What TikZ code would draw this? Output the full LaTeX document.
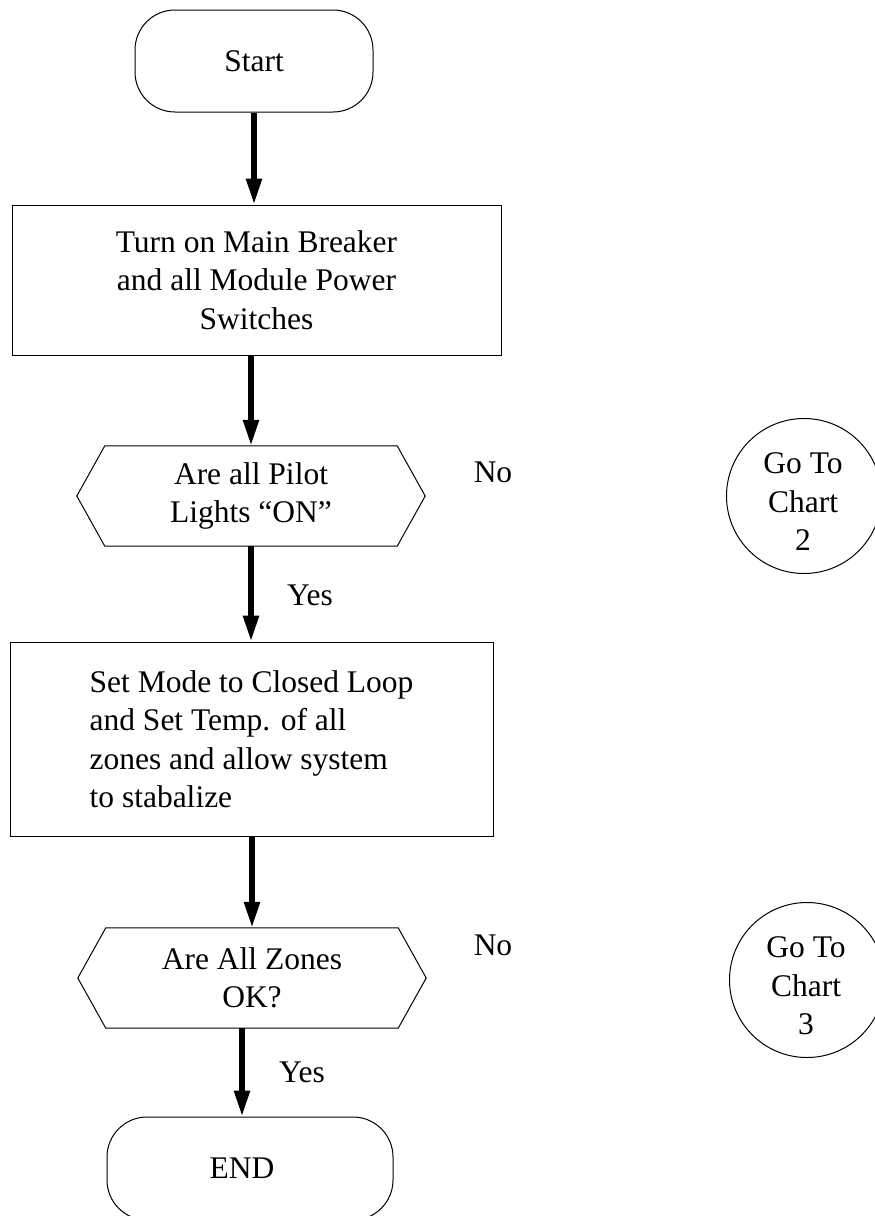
\documentclass[tikz,border=0pt]{standalone}
\usepackage{fontspec}
\setmainfont{Liberation Serif}
\usetikzlibrary{arrows.meta,calc}
\begin{document}
\begin{tikzpicture}[x=1pt,y=-1pt,
  font=\fontsize{31.5}{38.5}\selectfont,
  box/.style={draw, line width=1pt, inner sep=0pt},
  term/.style={box, rounded corners=40pt},
  dec/.style={inner sep=0pt, minimum width=292pt, minimum height=100pt, align=center},
  hexline/.style={line width=1pt, line join=miter},
  flow/.style={line width=5.5pt, -{Triangle[length=26pt,width=15pt]}},
  conn/.style={draw, circle, line width=1pt, minimum size=155pt, inner sep=0pt},
  lbl/.style={inner sep=0pt, align=center}]
\useasboundingbox (0,0) rectangle (875,1216);

% terminals and process boxes
\node[term, minimum width=238pt, minimum height=102pt] (start) at (254,61) {Start};
\node[box, minimum width=489pt, minimum height=150pt, align=center] (b1) at (256.5,280)
  {Turn on Main Breaker\\and all Module Power\\Switches};
\node[dec] (q1) at (251,496) {Are all Pilot\\Lights “ON”};
\draw[hexline] (q1.north west) -- (q1.north east) -- ($(q1.east)+(28,0)$) -- (q1.south east)
  -- (q1.south west) -- ($(q1.west)+(-28,0)$) -- cycle;
\node[box, minimum width=483pt, minimum height=194pt, align=left] (b2) at (251.5,739)
  {Set Mode to Closed Loop\\and Set Temp. of all\\zones and allow system\\to stabalize};
\node[dec] (q2) at (252,978) {Are All Zones\\OK?};
\draw[hexline] (q2.north west) -- (q2.north east) -- ($(q2.east)+(28,0)$) -- (q2.south east)
  -- (q2.south west) -- ($(q2.west)+(-28,0)$) -- cycle;
\node[term, minimum width=286pt, minimum height=103pt] (end) at (250,1168.5) {END\hspace*{16pt}};

% connectors (off-page)
\node[conn] (c2) at (804,496) {};
\node[lbl] (c2t) at (803,502) {Go To\\Chart\\2};
\node[conn] (c3) at (807,980) {};
\node[lbl] (c3t) at (806,986) {Go To\\Chart\\3};

% labels
\node[lbl] (n1) at (493,472) {No};
\node[lbl] (y1) at (310,595) {Yes};
\node[lbl] (n2) at (493,945) {No};
\node[lbl] (y2) at (302,1072) {Yes};

% flow arrows
\draw[flow] (start.south) -- (start.south |- b1.north);
\draw[flow] (q1.north |- b1.south) -- (q1.north);
\draw[flow] (q1.south) -- (q1.south |- b2.north);
\draw[flow] (q2.north |- b2.south) -- (q2.north);
\draw[flow] ([xshift=-10pt]q2.south) -- ([xshift=-10pt]q2.south |- end.north);
\end{tikzpicture}
\end{document}
